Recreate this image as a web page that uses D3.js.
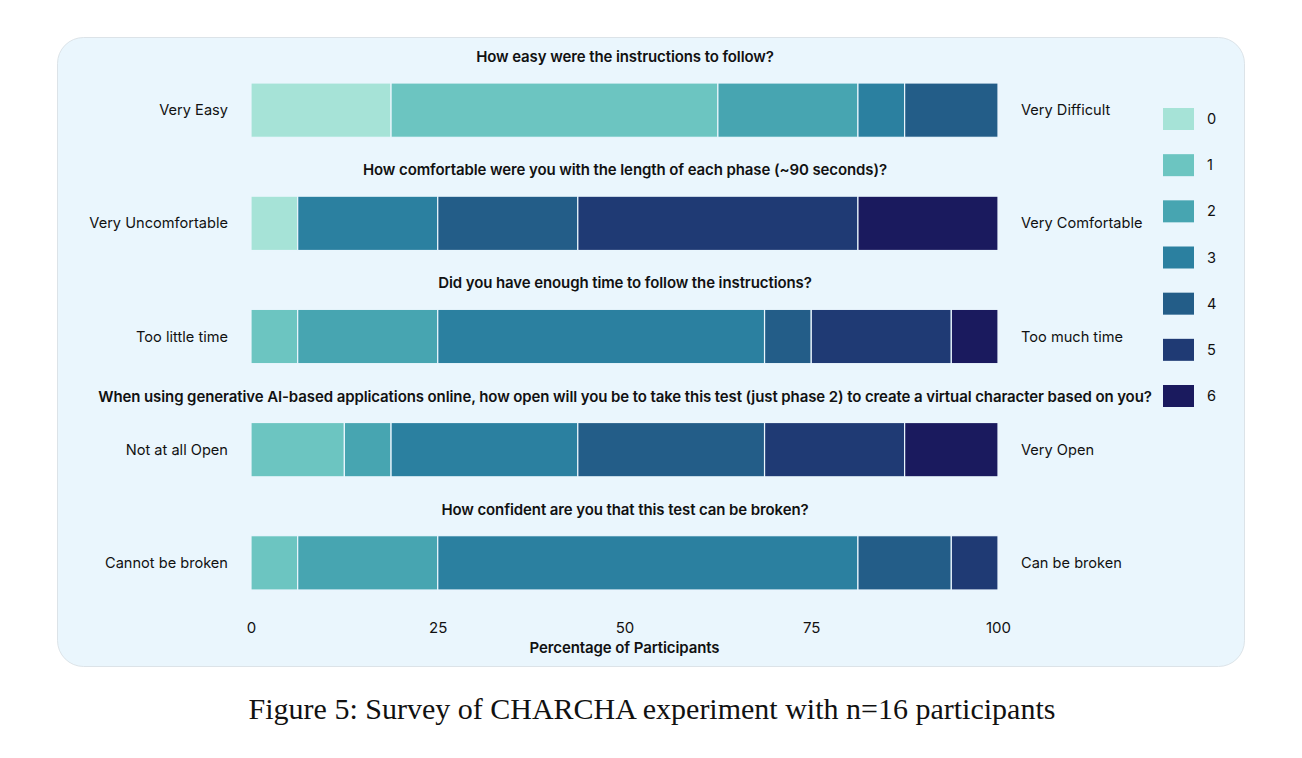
<!DOCTYPE html>
<html><head><meta charset="utf-8">
<script src="https://cdn.jsdelivr.net/npm/d3@7"></script>
<style>body{margin:0;background:#fff}svg{display:block}</style>
</head><body>
<svg id="c" width="1302" height="758"></svg>
<script>
const questions = [
  "How easy were the instructions to follow?",
  "How comfortable were you with the length of each phase (~90 seconds)?",
  "Did you have enough time to follow the instructions?",
  "When using generative AI-based applications online, how open will you be to take this test (just phase 2) to create a virtual character based on you?",
  "How confident are you that this test can be broken?"
];
const leftLabels = ["Very Easy","Very Uncomfortable","Too little time","Not at all Open","Cannot be broken"];
const rightLabels = ["Very Difficult","Very Comfortable","Too much time","Very Open","Can be broken"];
const levels = ["0","1","2","3","4","5","6"];
// percentages of participants (n=16) per level 0..6
const q1 = [18.75, 43.75, 18.75, 6.25, 12.5, 0, 0];
const q2 = [6.25, 0, 0, 18.75, 18.75, 37.5, 18.75];
const q3 = [0, 6.25, 18.75, 43.75, 6.25, 18.75, 6.25];
const q4 = [0, 12.5, 6.25, 25, 25, 18.75, 12.5];
const q5 = [0, 6.25, 18.75, 56.25, 12.5, 6.25, 0];
const xTicks = [0, 25, 50, 75, 100];
const colors = ["#a6e3d7","#6cc5c1","#47a5b1","#2b80a0","#235d88","#1f3a74","#1a1a5e"];

const values = [q1,q2,q3,q4,q5];
const svg = d3.select("#c");
const font = "Inter, 'Noto Sans', sans-serif";

svg.append("rect").attr("x",57.5).attr("y",37.5).attr("width",1187).attr("height",629)
  .attr("rx",26).attr("fill","#eaf6fd").attr("stroke","#d6dde2").attr("stroke-width",0.8);

const x = d3.scaleLinear().domain([0,100]).range([251,998]);
const y = d3.scaleBand().domain(d3.range(questions.length)).range([83,590]).paddingInner(0.52).paddingOuter(0);
const color = d3.scaleOrdinal().domain(levels).range(colors);

values.forEach((vals,i)=>{
  const g = svg.append("g");
  const table = [Object.fromEntries(levels.map((l,k)=>[l,vals[k]]))];
  const stacked = d3.stack().keys(levels)(table);
  g.selectAll("rect").data(stacked.filter(s=>s[0][1]-s[0][0]>0)).join("rect")
    .attr("x",s=>x(s[0][0])).attr("width",s=>x(s[0][1])-x(s[0][0]))
    .attr("y",y(i)).attr("height",y.bandwidth())
    .attr("fill",s=>color(s.key)).attr("stroke","#eaf6fd").attr("stroke-width",1.2);
  svg.append("text").attr("x",625).attr("y",y(i)-21).attr("text-anchor","middle")
    .attr("font-family",font).attr("font-size",15).attr("font-weight",600).attr("fill","#111")
    .attr("letter-spacing","-0.1").text(questions[i]);
  svg.append("text").attr("x",228).attr("y",y(i)+y.bandwidth()/2+5).attr("text-anchor","end")
    .attr("font-family",font).attr("font-size",14.6).attr("fill","#111").text(leftLabels[i]);
  svg.append("text").attr("x",1021).attr("y",y(i)+y.bandwidth()/2+5).attr("text-anchor","start")
    .attr("font-family",font).attr("font-size",14.6).attr("fill","#111").text(rightLabels[i]);
});

const ax = svg.append("g").attr("transform","translate(0,620)")
  .call(d3.axisBottom(x).tickValues(xTicks).tickSize(0).tickPadding(0));
ax.select(".domain").remove();
ax.selectAll("text").attr("font-family",font).attr("font-size",15).attr("fill","#111").attr("dy","0.85em");

svg.append("text").attr("x",x(50)).attr("y",653).attr("text-anchor","middle")
  .attr("font-family",font).attr("font-size",15).attr("font-weight",600).attr("fill","#111")
  .attr("letter-spacing","-0.1").text("Percentage of Participants");

const ly = d3.scalePoint().domain(levels).range([119,396]);
const leg = svg.append("g");
leg.selectAll("rect").data(levels).join("rect")
  .attr("x",1163).attr("y",d=>ly(d)-11).attr("width",31).attr("height",22).attr("fill",d=>color(d));
leg.selectAll("text").data(levels).join("text")
  .attr("x",1207).attr("y",d=>ly(d)+5).attr("font-family",font).attr("font-size",14.6).attr("fill","#111").text(d=>d);

svg.append("text").attr("x",652).attr("y",719).attr("text-anchor","middle")
  .attr("font-family","'Liberation Serif','Times New Roman',serif").attr("font-size",30).attr("fill","#111")
  .text("Figure 5: Survey of CHARCHA experiment with n=16 participants");
</script>
</body></html>
